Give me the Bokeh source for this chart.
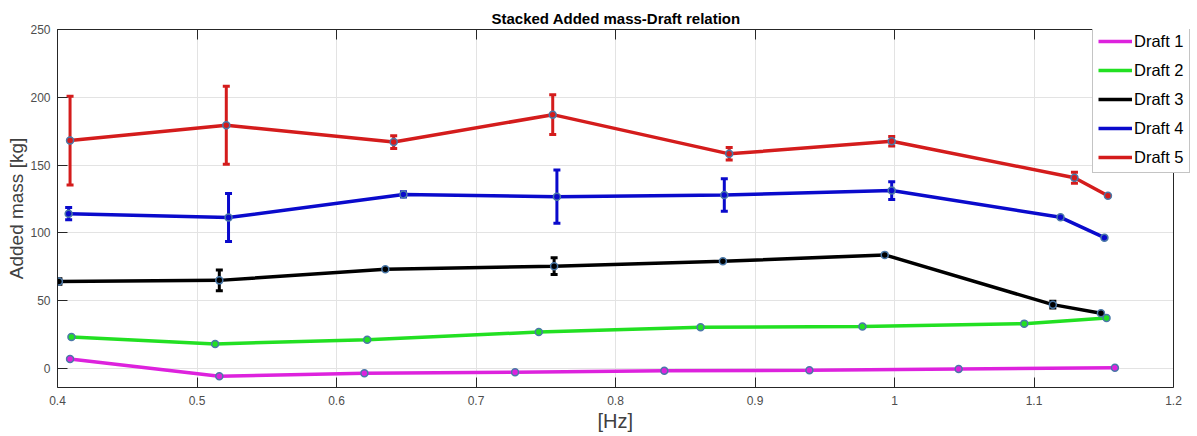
from bokeh.plotting import figure
from bokeh.models import (Range1d, LinearAxis, Whisker, ColumnDataSource, Legend,
                          LegendItem, TeeHead, FixedTicker, Span, BoxAnnotation, Title)
from bokeh.embed import file_html
from bokeh.resources import INLINE

# ---- data ----
series_names = ["Draft 1", "Draft 2", "Draft 3", "Draft 4", "Draft 5"]

d1_x = [0.409, 0.516, 0.620, 0.728, 0.835, 0.939, 1.046, 1.158]
d1_y = [7.0, -5.7, -3.5, -2.7, -1.7, -1.3, -0.3, 0.5]
d1_err = [0, 0, 0, 0, 0, 0, 0, 0]

d2_x = [0.410, 0.513, 0.622, 0.745, 0.861, 0.977, 1.093, 1.152]
d2_y = [23.2, 18.1, 21.3, 26.9, 30.4, 30.9, 33.1, 37.2]
d2_err = [0, 0, 0, 0, 0, 0, 0, 0]

d3_x = [0.401, 0.516, 0.635, 0.756, 0.877, 0.993, 1.1135, 1.148]
d3_y = [64.2, 65.0, 73.2, 75.5, 79.1, 83.8, 47.1, 40.7]
d3_err = [2.0, 7.7, 0, 6.2, 0, 0, 2.5, 0]

d4_x = [0.408, 0.5226, 0.648, 0.758, 0.878, 0.998, 1.119, 1.1505]
d4_y = [114.2, 111.3, 128.4, 126.7, 127.9, 131.2, 111.5, 96.5]
d4_err = [4.5, 17.7, 2.0, 19.6, 12.0, 6.5, 0, 0]

d5_x = [0.409, 0.521, 0.641, 0.755, 0.8815, 0.998, 1.129, 1.153]
d5_y = [168.1, 179.4, 167.0, 187.2, 158.3, 167.6, 140.7, 127.4]
d5_err = [32.7, 28.7, 4.7, 14.6, 4.6, 3.5, 4.0, 0]

x_min, x_max = 0.4, 1.2
y_min, y_max = -14, 250
x_ticks = [0.4, 0.5, 0.6, 0.7, 0.8, 0.9, 1.0, 1.1, 1.2]
x_tick_labels = ["0.4", "0.5", "0.6", "0.7", "0.8", "0.9", "1", "1.1", "1.2"]
y_ticks = [0, 50, 100, 150, 200, 250]

colors = ["#dd22dd", "#22e022", "#000000", "#0a0acc", "#d41c1c"]

# the frame runs on past x=1.2 to the page edge so the legend can overhang the box
LEFT, RIGHT_PAD = 57, 24
FRAME_W = 1197 - LEFT
x_end = x_max + (x_max - x_min) * RIGHT_PAD / (FRAME_W - RIGHT_PAD)

p = figure(width=1197, height=436, output_backend="svg", toolbar_location=None,
           x_range=Range1d(x_min, x_end), y_range=Range1d(y_min, y_max),
           min_border_left=LEFT, min_border_right=0, min_border_top=29,
           min_border_bottom=49, background_fill_color="white",
           border_fill_color="white")
p.outline_line_color = None

p.title.text = "Stacked Added mass-Draft relation"
p.title.align = "left"
p.title.offset = 434
p.title.text_font = "Liberation Sans"
p.title.text_font_style = "bold"
p.title.text_font_size = "15px"
p.title.text_color = "#000000"
p.title.standoff = 6

for ax in (p.xaxis[0], p.yaxis[0]):
    ax.axis_line_color = "#262626"
    ax.major_tick_line_color = "#262626"
    ax.major_tick_in = 10
    ax.major_tick_out = 0
    ax.minor_tick_line_color = None
    ax.major_label_text_font = "Liberation Sans"
    ax.major_label_text_font_size = "12px"
    ax.major_label_text_color = "#4d4d4d"
    ax.axis_label_text_font_style = "normal"
    ax.axis_label_text_color = "#404040"

p.xaxis[0].bounds = (x_min, x_max)
p.xaxis[0].ticker = FixedTicker(ticks=x_ticks)
p.xaxis[0].major_label_overrides = {t: l for t, l in zip(x_ticks, x_tick_labels)}
p.xaxis[0].major_label_standoff = 8

p.yaxis[0].ticker = FixedTicker(ticks=y_ticks)
p.yaxis[0].axis_label = "Added mass [kg]"
p.yaxis[0].axis_label_text_font = "Liberation Sans"
p.yaxis[0].axis_label_text_font_size = "19px"
p.yaxis[0].major_label_standoff = 7
p.yaxis[0].axis_label_standoff = 0

# x-axis title, centred under the box (not under the wider frame)
p.add_layout(Title(text="[Hz]", align="left", offset=540, text_font="Liberation Sans",
                   text_font_size="20px", text_font_style="normal",
                   text_color="#404040", standoff=0), "below")

# top edge of the box with inward ticks
top_ax = LinearAxis(ticker=FixedTicker(ticks=x_ticks), bounds=(x_min, x_max),
                    major_label_overrides={t: "" for t in x_ticks},
                    major_tick_in=10, major_tick_out=0, minor_tick_line_color=None,
                    axis_line_color="#262626", major_tick_line_color="#262626",
                    major_label_standoff=0, major_label_text_font_size="1px")
p.add_layout(top_ax, "above")

p.xgrid.ticker = FixedTicker(ticks=x_ticks)
p.ygrid.ticker = FixedTicker(ticks=y_ticks)
p.grid.grid_line_color = "#e3e3e3"
p.grid.grid_line_width = 1

# blank out the strip right of the box, then draw the right edge
p.add_layout(BoxAnnotation(left=x_max, fill_color="white", fill_alpha=1,
                           line_color=None, level="glyph"))
p.add_layout(Span(location=x_max, dimension="height", line_color="#262626",
                  line_width=1))

series = [(d1_x, d1_y, d1_err), (d2_x, d2_y, d2_err), (d3_x, d3_y, d3_err),
          (d4_x, d4_y, d4_err), (d5_x, d5_y, d5_err)]

items = []
for (xs, ys, es), col, name in zip(series, colors, series_names):
    r = p.line(xs, ys, line_color=col, line_width=3.5)
    p.scatter(xs, ys, size=7, fill_color=col, line_color="#4a78a8", line_width=1.5)
    ex = [x for x, e in zip(xs, es) if e > 0]
    ey = [y for y, e in zip(ys, es) if e > 0]
    ee = [e for e in es if e > 0]
    if ex:
        src = ColumnDataSource(dict(base=ex, lower=[y - e for y, e in zip(ey, ee)],
                                    upper=[y + e for y, e in zip(ey, ee)]))
        w = Whisker(source=src, base="base", lower="lower", upper="upper",
                    line_color=col, line_width=3,
                    upper_head=TeeHead(size=7, line_color=col, line_width=3),
                    lower_head=TeeHead(size=7, line_color=col, line_width=3))
        p.add_layout(w)
    items.append(LegendItem(label=name, renderers=[r]))

legend = Legend(items=items, location=(1035, 214), glyph_width=34, glyph_height=20,
                spacing=9, padding=5, margin=0, label_standoff=2,
                label_text_font="Liberation Sans", label_text_font_size="16.5px",
                label_text_color="#000000", border_line_color="#8a8a8a",
                border_line_width=1, background_fill_color="white",
                background_fill_alpha=1)
p.add_layout(legend, "center")

open("out.html", "w").write(file_html(p, INLINE))
